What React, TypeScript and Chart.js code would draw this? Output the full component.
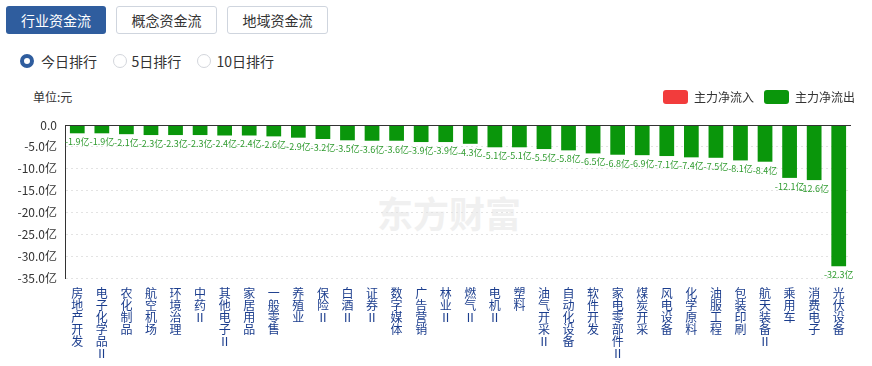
import React, { useEffect, useRef } from "react";
import { Chart, registerables } from "chart.js";

Chart.register(...registerables);

const categories: string[] = [
  "房地产开发", "电子化学品Ⅱ", "农化制品", "航空机场", "环境治理", "中药Ⅱ", "其他电子Ⅱ", "家居用品",
  "一般零售", "养殖业", "保险Ⅱ", "白酒Ⅱ", "证券Ⅱ", "数字媒体", "广告营销", "林业Ⅱ",
  "燃气Ⅱ", "电机Ⅱ", "塑料", "油气开采Ⅱ", "自动化设备", "软件开发", "家电零部件Ⅱ", "煤炭开采",
  "风电设备", "化学原料", "油服工程", "包装印刷", "航天装备Ⅱ", "乘用车", "消费电子", "光伏设备",
];

const outflowValues: number[] = [
  -1.9, -1.9, -2.1, -2.3, -2.3, -2.3, -2.4, -2.4,
  -2.6, -2.9, -3.2, -3.5, -3.6, -3.6, -3.9, -3.9,
  -4.3, -5.1, -5.1, -5.5, -5.8, -6.5, -6.8, -6.9,
  -7.1, -7.4, -7.5, -8.1, -8.4, -12.1, -12.6, -32.3,
];

const inflowValues: (number | null)[] = [];

const legendLabels = ["主力净流入", "主力净流出"];
const yMin = -35;
const yMax = 0;
const yStep = 5;

const FONT = '"Noto Sans CJK SC", "Microsoft YaHei", sans-serif';
const GREEN = "#0a960b";
const RED = "#f23c3c";
const BLUE = "#2f5d9e";

const legendSpacer = {
  id: "legendSpacer",
  beforeInit(chart: any) {
    const orig = chart.legend.fit;
    chart.legend.fit = function fit() {
      orig.bind(chart.legend)();
      this.height += 11;
    };
  },
};

const zeroLine = {
  id: "zeroLine",
  afterDatasetsDraw(chart: any) {
    const { ctx, chartArea, scales } = chart;
    const y = Math.round(scales.y.getPixelForValue(0)) + 0.5;
    ctx.save();
    ctx.strokeStyle = "#333";
    ctx.lineWidth = 1;
    ctx.beginPath();
    ctx.moveTo(chartArea.left, y);
    ctx.lineTo(chartArea.right, y);
    ctx.stroke();
    ctx.restore();
  },
};

const barLabels = {
  id: "barLabels",
  afterDatasetsDraw(chart: any) {
    const { ctx } = chart;
    const meta = chart.getDatasetMeta(1);
    ctx.save();
    ctx.font = `9px ${FONT}`;
    ctx.fillStyle = "#2f9b2f";
    ctx.textAlign = "center";
    ctx.textBaseline = "middle";
    meta.data.forEach((bar: any, i: number) => {
      const v = outflowValues[i];
      ctx.fillText(v.toFixed(1) + "亿", bar.x, bar.y + 8.5);
    });
    ctx.restore();
  },
};

function ChartCanvas() {
  const ref = useRef<HTMLCanvasElement | null>(null);
  useEffect(() => {
    if (!ref.current) return;
    Chart.defaults.font.family = FONT;
    const chart = new Chart(ref.current, {
      type: "bar",
      data: {
        labels: categories,
        datasets: [
          {
            label: legendLabels[0],
            data: inflowValues,
            backgroundColor: RED,
            borderWidth: 0,
            grouped: false,
          } as any,
          {
            label: legendLabels[1],
            data: outflowValues,
            backgroundColor: GREEN,
            borderWidth: 0,
            grouped: false,
            barPercentage: 0.6,
            categoryPercentage: 1,
          } as any,
        ],
      },
      options: {
        responsive: false,
        animation: false,
        devicePixelRatio: 1,
        layout: { padding: { left: 0, right: 7, top: 0, bottom: 0 } },
        plugins: {
          legend: {
            position: "top",
            align: "end",
            labels: {
              boxWidth: 25,
              boxHeight: 14,
              padding: 10,
              color: "#333",
              font: { size: 12, family: FONT },
              useBorderRadius: true,
              borderRadius: 3,
            } as any,
          },
          tooltip: { enabled: false },
        },
        scales: {
          x: {
            type: "category",
            grid: { display: false, drawTicks: false },
            border: { display: false },
            ticks: {
              autoSkip: false,
              maxRotation: 0,
              minRotation: 0,
              padding: 9,
              color: "#1b3d8d",
              font: { size: 12, family: FONT, lineHeight: 1 },
              callback: (_v: any, index: number) => Array.from(categories[index]),
            },
            afterFit: (s: any) => {
              s.height = 88;
            },
          },
          y: {
            type: "linear",
            min: yMin,
            max: yMax,
            position: "left",
            grid: {
              drawTicks: false,
              color: (c: any) => (c.tick && c.tick.value === 0 ? "rgba(0,0,0,0)" : "#e3e3e3"),
              lineWidth: 1,
            },
            border: { display: true, color: "#333", width: 1, dash: [2, 3] },
            ticks: {
              stepSize: yStep,
              padding: 8,
              color: "#333",
              font: { size: 12, family: FONT },
              callback: (v: any) => (Number(v) === 0 ? "0.0" : Number(v).toFixed(1) + "亿"),
            },
            afterFit: (s: any) => {
              s.width = 65;
            },
          },
          yR: {
            type: "linear",
            position: "right",
            display: true,
            grid: { display: false, drawTicks: false },
            border: { display: false },
            ticks: { display: false },
            afterFit: (s: any) => {
              s.width = 14;
            },
          },
        },
      } as any,
      plugins: [legendSpacer, zeroLine, barLabels],
    });
    return () => chart.destroy();
  }, []);
  return (
    <canvas
      ref={ref}
      width={872}
      height={286}
      style={{ position: "absolute", left: 0, top: 80, width: 872, height: 286 }}
    />
  );
}

const btnBase: React.CSSProperties = {
  position: "absolute",
  top: 6,
  height: 28,
  boxSizing: "border-box",
  borderRadius: 3,
  fontSize: 14,
  display: "flex",
  alignItems: "center",
  justifyContent: "center",
};

function Radio({ cx, selected, label, textLeft }: { cx: number; selected: boolean; label: string; textLeft: number }) {
  return (
    <>
      <div
        style={{
          position: "absolute",
          left: cx - 7,
          top: 60.7 - 7,
          width: 14,
          height: 14,
          boxSizing: "border-box",
          borderRadius: "50%",
          border: selected ? `4px solid ${BLUE}` : "1px solid #d3d6dc",
          background: "#fff",
        }}
      />
      <div
        style={{
          position: "absolute",
          left: textLeft,
          top: 51.5,
          lineHeight: "18px",
          fontSize: 14,
          color: "#333",
          whiteSpace: "nowrap",
        }}
      >
        {label}
      </div>
    </>
  );
}

export default function App() {
  return (
    <div
      style={{
        position: "fixed",
        left: 0,
        top: 0,
        width: 872,
        height: 366,
        background: "#fff",
        fontFamily: FONT,
        overflow: "hidden",
      }}
    >
      <div style={{ ...btnBase, left: 6, width: 100, background: BLUE, color: "#fff" }}>行业资金流</div>
      <div style={{ ...btnBase, left: 116, width: 101, border: "1px solid #cfd5de", color: "#333" }}>概念资金流</div>
      <div style={{ ...btnBase, left: 227, width: 101, border: "1px solid #cfd5de", color: "#333" }}>地域资金流</div>

      <Radio cx={26.7} selected label="今日排行" textLeft={41} />
      <Radio cx={120} selected={false} label="5日排行" textLeft={131.5} />
      <Radio cx={204} selected={false} label="10日排行" textLeft={216.5} />

      <div
        style={{
          position: "absolute",
          left: 33,
          top: 88,
          lineHeight: "18px",
          fontSize: 12,
          color: "#333",
        }}
      >
        单位:元
      </div>

      <div
        style={{
          position: "absolute",
          left: 377,
          top: 190,
          fontSize: 36,
          lineHeight: "44px",
          fontWeight: 700,
          color: "#f0f0f0",
          whiteSpace: "nowrap",
          letterSpacing: 0,
        }}
      >
        东方财富
      </div>

      <ChartCanvas />
    </div>
  );
}
